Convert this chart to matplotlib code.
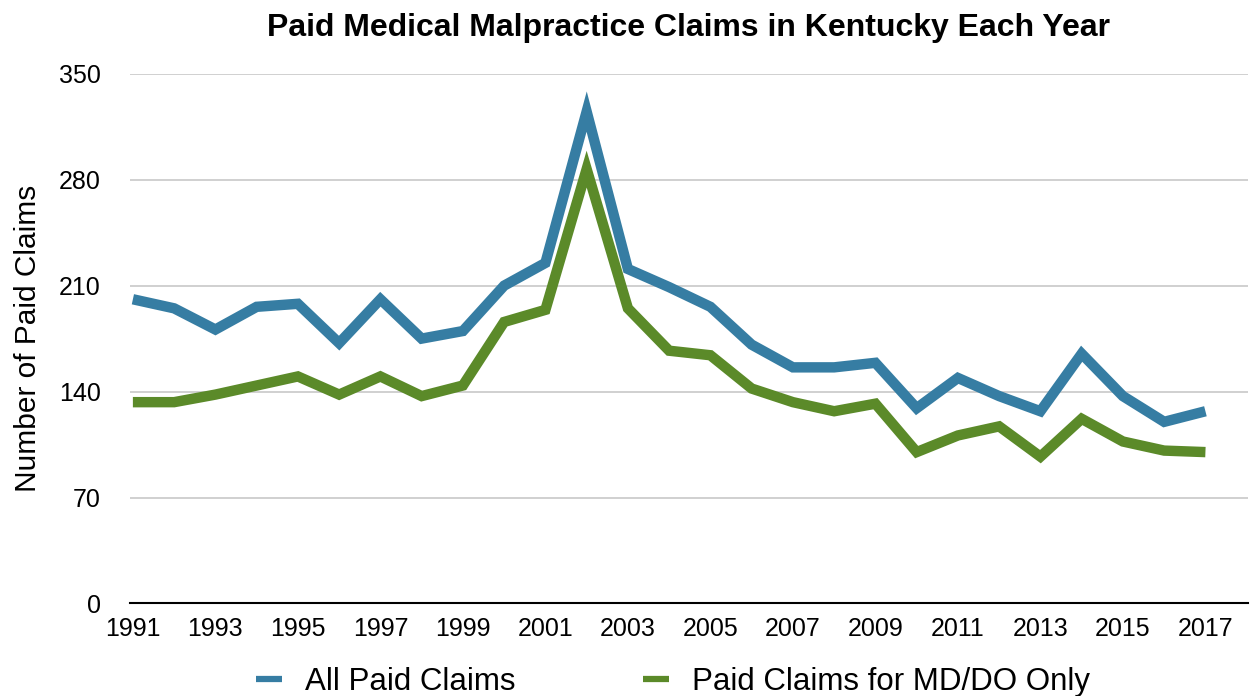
import matplotlib.pyplot as plt

plt.rcParams['font.family'] = ['Liberation Sans', 'DejaVu Sans']

years = list(range(1991, 2018))
all_claims = [201, 195, 181, 196, 198, 172, 201, 175, 180, 210, 225, 325, 221, 209, 196,
              171, 156, 156, 159, 129, 149, 137, 127, 165, 137, 120, 127]
md_do_claims = [133, 133, 138, 144, 150, 138, 150, 137, 144, 186, 194, 287, 195, 167, 164,
                142, 133, 127, 132, 100, 111, 117, 97, 122, 107, 101, 100]
yticks = [0, 70, 140, 210, 280, 350]
xticks = list(range(1991, 2018, 2))

fig = plt.figure(figsize=(12.5, 6.96), dpi=100)
ax = fig.add_axes([0.104, 0.133, 0.894, 0.761])

ax.plot(years, all_claims, color='#367da3', lw=7.5, label='All Paid Claims',
        solid_joinstyle='miter', solid_capstyle='butt')
ax.plot(years, md_do_claims, color='#5b8a29', lw=7.5, label='Paid Claims for MD/DO Only',
        solid_joinstyle='miter', solid_capstyle='butt')

ax.set_xlim(1990.93, 2018.02)
ax.set_ylim(0, 350)
ax.set_yticks(yticks)
ax.set_xticks(xticks)
ax.grid(axis='y', color='#c8c8c8', lw=1.2)
ax.set_axisbelow(True)
for s in ['top', 'right', 'left']:
    ax.spines[s].set_visible(False)
ax.spines['bottom'].set_linewidth(1.5)
ax.tick_params(axis='both', length=0, labelsize=18)
ax.tick_params(axis='y', pad=21)
ax.tick_params(axis='x', pad=10)

ax.set_ylabel('Number of Paid Claims', fontsize=21.5)
ax.yaxis.set_label_coords(-0.079, 0.5)
ax.set_title('Paid Medical Malpractice Claims in Kentucky Each Year',
             fontsize=23, fontweight='bold', pad=27)

leg = ax.legend(loc='center', bbox_to_anchor=(0.486, -0.148), ncol=2, frameon=False,
                fontsize=22.5, handlelength=0.83, handletextpad=0.74, columnspacing=4.06)
for ln in leg.get_lines():
    ln.set_linewidth(4.5)

fig.savefig('out.png', dpi=100)
